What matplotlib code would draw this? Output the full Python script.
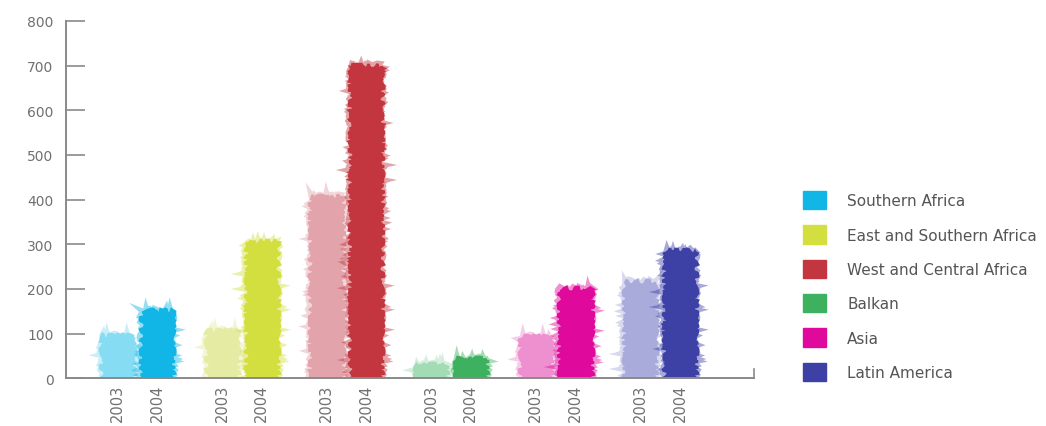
import matplotlib
matplotlib.use('Agg')
import matplotlib.pyplot as plt
from matplotlib.patches import Patch
import numpy as np

regions = ['Southern Africa', 'East and Southern Africa', 'West and Central Africa',
           'Balkan', 'Asia', 'Latin America']
years = ['2003', '2004']
values_2003 = [95, 105, 405, 30, 92, 215]
values_2004 = [150, 305, 700, 42, 200, 285]
colors_2003 = ['#86dcf3', '#e6eba4', '#e3a3ab', '#a2dbb4', '#ee8fcf', '#a9abdb']
colors_2004 = ['#11b6e6', '#d3df3f', '#c3363f', '#3eb160', '#df0a9b', '#3d41a6']
y_ticks = [0, 100, 200, 300, 400, 500, 600, 700, 800]

GRAY = '#8a8a8a'
TEXT = '#707070'


def scribble(ax, xs, vals, w, colors):
    # solid core plus a soft, wobbly fringe so the bars look hand drawn
    core = ax.bar(xs, vals, w, color=colors, edgecolor=colors, linewidth=2, zorder=2)
    for b in core:
        b.set_sketch_params(scale=2.5, length=8, randomness=14)
    fringe = ax.bar(xs, vals, w, color='none', edgecolor=colors, linewidth=4,
                    alpha=0.45, zorder=2)
    for b in fringe:
        b.set_sketch_params(scale=2.5, length=5, randomness=10)


def main():
    fig = plt.figure(figsize=(10.46, 4.27), dpi=100)
    ax = fig.add_axes([0.063, 0.112, 0.658, 0.8365])

    x = np.arange(len(regions))
    off = 0.19
    w = 0.29
    scribble(ax, x - off, values_2003, w, colors_2003)
    scribble(ax, x + off, values_2004, w, colors_2004)

    ax.set_ylim(0, 800)
    ax.set_xlim(-0.684, 5.9)
    ax.set_yticks(y_ticks)
    ax.tick_params(axis='y', direction='in', length=14, width=1.2,
                   color=GRAY, labelcolor=TEXT, labelsize=10, pad=9)

    pos = np.concatenate([x - off, x + off])
    labs = [years[0]] * len(x) + [years[1]] * len(x)
    ax.set_xticks(pos)
    ax.set_xticklabels(labs, rotation=90, va='top')
    ax.tick_params(axis='x', length=0, labelcolor=TEXT, labelsize=10.5, pad=4)

    for s in ['top', 'right']:
        ax.spines[s].set_visible(False)
    for s in ['left', 'bottom']:
        ax.spines[s].set_color(GRAY)
        ax.spines[s].set_linewidth(1.4)
    # small end mark on the x axis
    ax.plot([1, 1], [0, 0.025], transform=ax.transAxes, color=GRAY,
            lw=1.2, clip_on=False)

    handles = [Patch(facecolor=c, edgecolor=c) for c in colors_2004]
    fig.legend(handles, regions, loc='upper left', bbox_to_anchor=(0.7677, 0.55),
               frameon=False, fontsize=11, labelcolor='#555555',
               handlelength=1.5, handleheight=1.45, handletextpad=1.4,
               labelspacing=1.06, borderpad=0, borderaxespad=0)

    fig.savefig('out.png', dpi=100)


if __name__ == '__main__':
    main()
